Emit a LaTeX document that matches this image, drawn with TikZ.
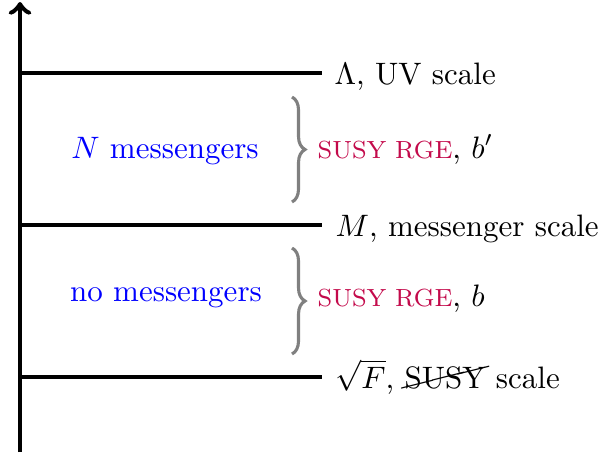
\documentclass[tikz,border=0pt]{standalone}
\usetikzlibrary{decorations.pathreplacing}
\usepackage{cancel}
\definecolor{rgecol}{RGB}{195,10,75}
\begin{document}
\begin{tikzpicture}[x=0.3225pt,y=-0.3225pt,
  level/.style={line width=1.15pt},
  axisline/.style={line width=1.6pt,->},
  bracestyle/.style={decorate,decoration={brace,amplitude=4.2pt},gray,line width=1pt},
  lbl/.style={inner sep=0pt,anchor=base west},
  region/.style={blue,inner sep=0pt}]
\useasboundingbox (0,0) rectangle (600,454);
\coordinate (bot) at (20,452);
\coordinate (top) at (20,2);
\draw[axisline] (bot) -- (top);
\coordinate (a1) at (19,73);
\coordinate (b1) at (322,73);
\coordinate (a2) at (19,225);
\coordinate (b2) at (322,225);
\coordinate (a3) at (19,377);
\coordinate (b3) at (322,377);
\draw[level] (a1) -- (b1);
\draw[level] (a2) -- (b2);
\draw[level] (a3) -- (b3);
\node[lbl] (t1) at (334,84) {$\Lambda$, UV scale};
\node[lbl] (t2) at (335,236) {$M$, messenger scale};
\node[lbl] (t3) at (335,388) {$\sqrt{F}$, \cancel{SUSY} scale};
\node[region] (r1) at (165,151) {$N$ messengers};
\node[region] (r2) at (166,298) {no messengers};
\coordinate (c1) at (292,97);
\coordinate (d1) at (292,202);
\coordinate (c2) at (292,248);
\coordinate (d2) at (292,354);
\draw[bracestyle] (c1) -- (d1);
\draw[bracestyle] (c2) -- (d2);
\node[lbl] (s1) at (317,158) {\textcolor{rgecol}{\footnotesize SUSY RGE}, $b'$};
\node[lbl] (s2) at (317,306) {\textcolor{rgecol}{\footnotesize SUSY RGE}, $b$};
\end{tikzpicture}
\end{document}
